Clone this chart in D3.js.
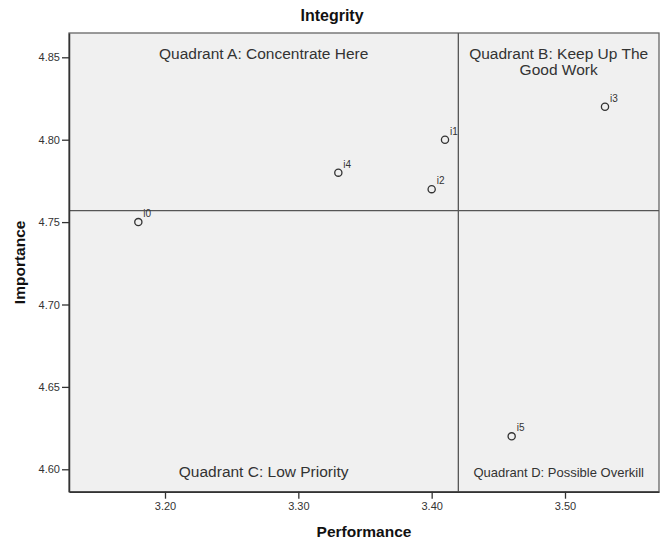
<!DOCTYPE html>
<html>
<head>
<meta charset="utf-8">
<script src="https://cdn.jsdelivr.net/npm/d3@7"></script>
<style>
  html, body { margin: 0; padding: 0; background: #fff; }
  svg { display: block; font-family: "Liberation Sans", Arial, sans-serif; }
</style>
</head>
<body>
<svg id="chart" width="660" height="544"></svg>
<script>
// ---- data ----
const labels = ["i0", "i1", "i2", "i3", "i4", "i5"];
const performance = [3.18, 3.41, 3.40, 3.53, 3.33, 3.46];
const importance = [4.75, 4.80, 4.77, 4.82, 4.78, 4.62];
const xTicks = [3.20, 3.30, 3.40, 3.50];
const yTicks = [4.60, 4.65, 4.70, 4.75, 4.80, 4.85];
const xDomain = [3.128, 3.5705];
const yDomain = [4.5864, 4.86475];
const refPerformance = 3.42;
const refImportance = 4.757;
const title = "Integrity";
const xTitle = "Performance";
const yTitle = "Importance";
const quadrantA = ["Quadrant A: Concentrate Here"];
const quadrantB = ["Quadrant B: Keep Up The", "Good Work"];
const quadrantC = ["Quadrant C: Low Priority"];
const quadrantD = ["Quadrant D: Possible Overkill"];

// ---- layout ----
const pLeft = 69, pRight = 659, pTop = 33, pBottom = 491.7;
const svg = d3.select("#chart");
const x = d3.scaleLinear().domain(xDomain).range([pLeft, pRight]);
const y = d3.scaleLinear().domain(yDomain).range([pBottom, pTop]);
const textCol = "#333";

svg.append("rect")
  .attr("x", pLeft).attr("y", pTop)
  .attr("width", pRight - pLeft).attr("height", pBottom - pTop)
  .attr("fill", "#f0f0f0")
  .attr("stroke", "#666").attr("stroke-width", 1.3);

// reference lines
svg.append("line")
  .attr("x1", x(refPerformance)).attr("x2", x(refPerformance))
  .attr("y1", pTop).attr("y2", pBottom)
  .attr("stroke", "#555").attr("stroke-width", 1.3);
svg.append("line")
  .attr("x1", pLeft).attr("x2", pRight)
  .attr("y1", y(refImportance)).attr("y2", y(refImportance))
  .attr("stroke", "#555").attr("stroke-width", 1.3);

// axes
const xAxis = d3.axisBottom(x).tickValues(xTicks).tickFormat(d3.format(".2f")).tickSize(7).tickSizeOuter(0);
const yAxis = d3.axisLeft(y).tickValues(yTicks).tickFormat(d3.format(".2f")).tickSize(7).tickSizeOuter(0);

const gx = svg.append("g").attr("transform", `translate(0,${pBottom})`).call(xAxis);
const gy = svg.append("g").attr("transform", `translate(${pLeft},0)`).call(yAxis);
[gx, gy].forEach(g => {
  g.select(".domain").attr("stroke", "#333").attr("stroke-width", 1.5);
  g.selectAll(".tick line").attr("stroke", "#333").attr("stroke-width", 1.3);
  g.selectAll(".tick text").attr("fill", textCol)
    .style("font-size", "11px").style("font-family", "'Liberation Sans', Arial, sans-serif");
});
gx.selectAll(".tick text").attr("dy", "0.71em").attr("y", 11);
gy.selectAll(".tick text").attr("x", -9);

// titles
svg.append("text").attr("x", 332).attr("y", 21)
  .attr("text-anchor", "middle").attr("font-weight", "bold")
  .attr("font-size", 16).attr("fill", "#111").text(title);
svg.append("text").attr("x", (pLeft + pRight) / 2).attr("y", 537)
  .attr("text-anchor", "middle").attr("font-weight", "bold")
  .attr("font-size", 15.5).attr("fill", "#111").text(xTitle);
svg.append("text")
  .attr("transform", `translate(25,${(pTop + pBottom) / 2}) rotate(-90)`)
  .attr("text-anchor", "middle").attr("font-weight", "bold")
  .attr("font-size", 15.5).attr("fill", "#111").text(yTitle);

// quadrant labels
function quadLabel(lines, cx, cy, size) {
  const t = svg.append("text").attr("text-anchor", "middle")
    .attr("font-size", size).attr("fill", textCol);
  lines.forEach((l, i) => {
    t.append("tspan").attr("x", cx).attr("y", cy + i * 16).text(l);
  });
}
const xq = x(refPerformance);
quadLabel(quadrantA, (pLeft + xq) / 2, 58.5, 15.5);
quadLabel(quadrantB, (xq + pRight) / 2, 58.5, 15.5);
quadLabel(quadrantC, (pLeft + xq) / 2, 477, 15.5);
quadLabel(quadrantD, (xq + pRight) / 2, 477, 13);

// points
const pts = labels.map((l, i) => ({ l, px: performance[i], im: importance[i] }));
svg.append("g").selectAll("circle").data(pts).join("circle")
  .attr("cx", d => x(d.px)).attr("cy", d => y(d.im)).attr("r", 3.6)
  .attr("fill", "none").attr("stroke", "#333").attr("stroke-width", 1.3);
svg.append("g").selectAll("text").data(pts).join("text")
  .attr("x", d => x(d.px) + 5).attr("y", d => y(d.im) - 5)
  .attr("font-size", 10).attr("fill", textCol).text(d => d.l);
</script>
</body>
</html>
